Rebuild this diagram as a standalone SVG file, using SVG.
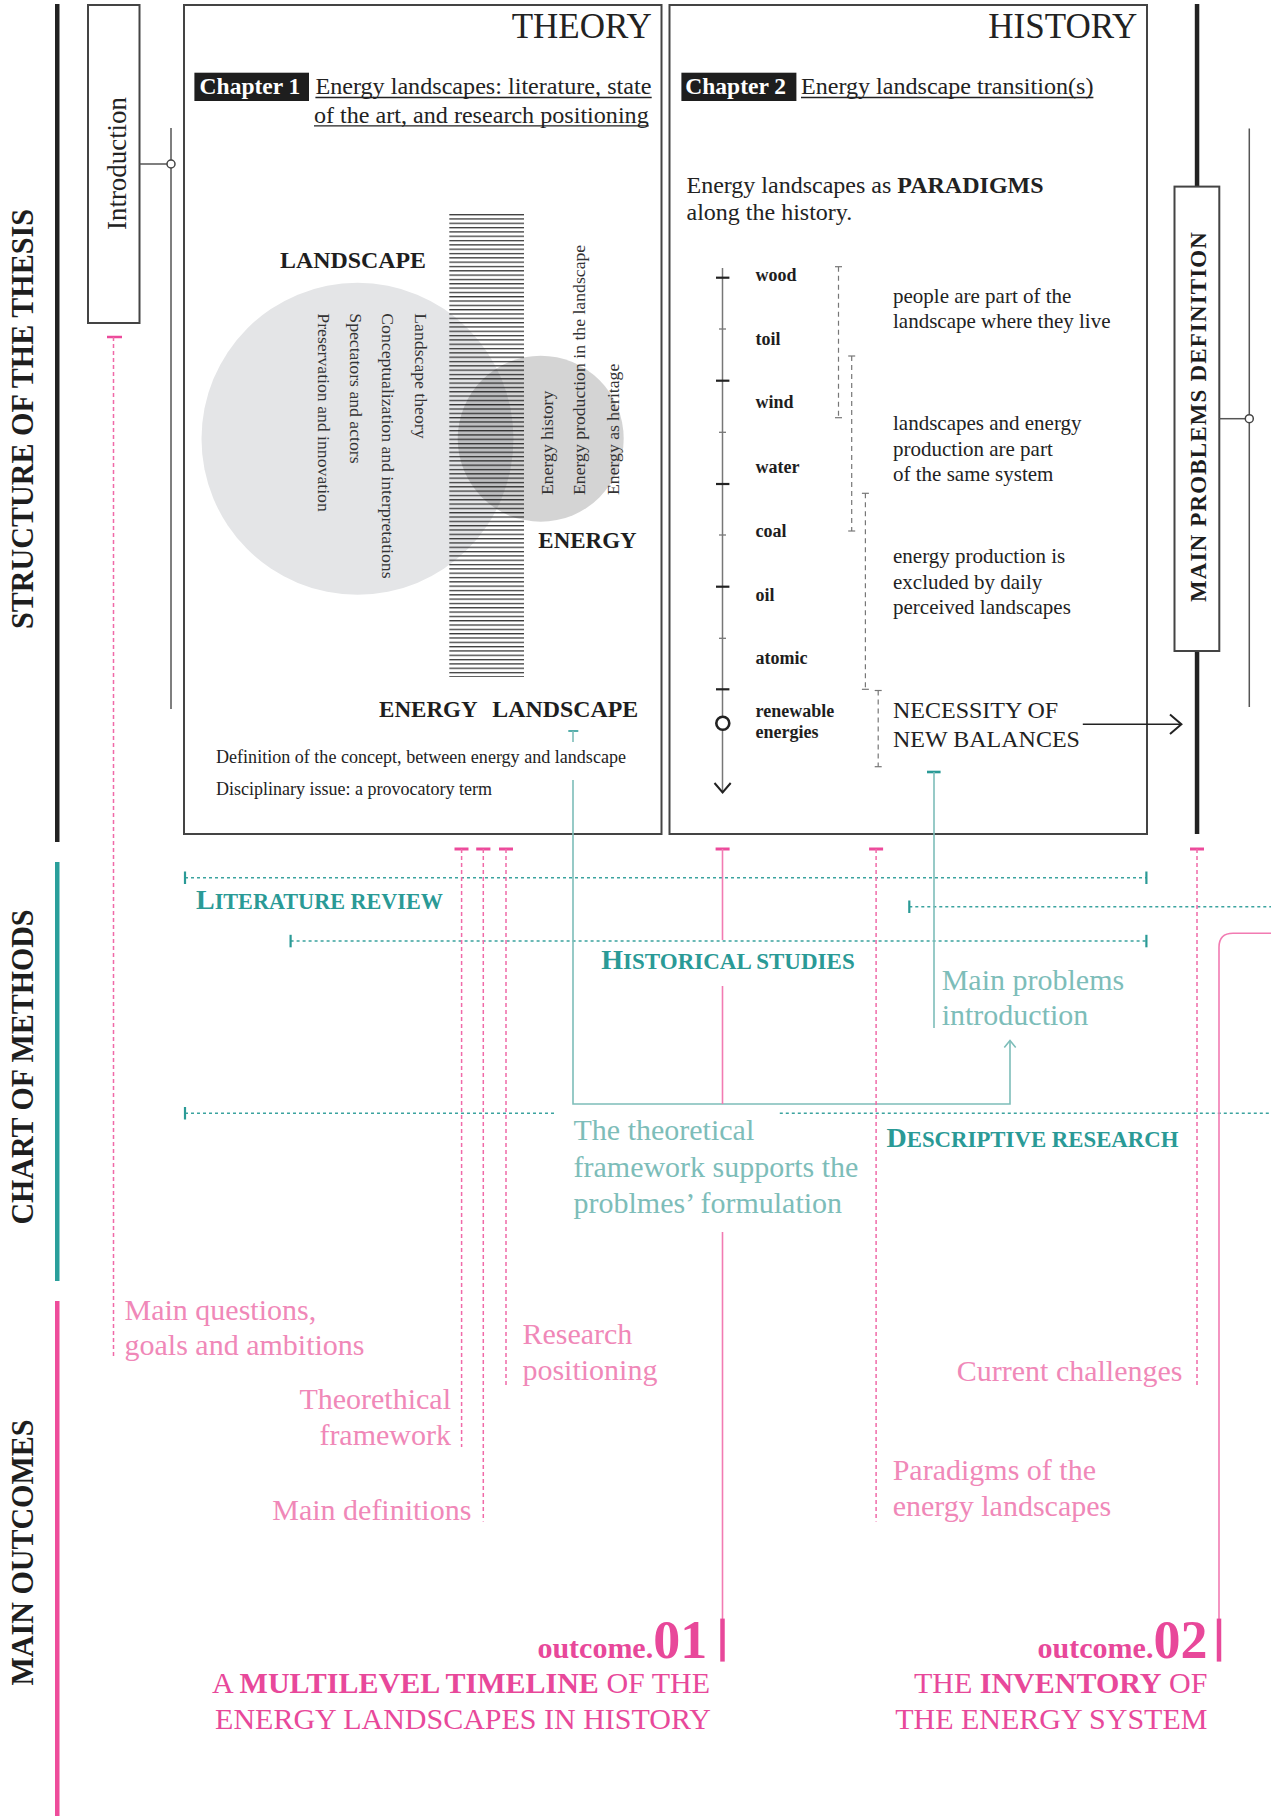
<svg xmlns="http://www.w3.org/2000/svg" width="1271" height="1816" viewBox="0 0 1271 1816">
<defs>
<style>
text{font-family:"Liberation Serif","Times New Roman",serif;}
.b{font-weight:bold;}
.blk{fill:#1e1e1e;}
.box{fill:#fff;stroke:#444;stroke-width:2;}
.thin{stroke:#555;stroke-width:1.5;fill:none;}
.tick{stroke:#222;stroke-width:2.2;}
.stick{stroke:#777;stroke-width:1.3;}
.brk{stroke:#777;stroke-width:1.2;stroke-dasharray:5 4;fill:none;}
.brkc{stroke:#777;stroke-width:1.2;}
.tdash{stroke:#3ba39f;stroke-width:1.5;stroke-dasharray:3 3;fill:none;}
.tcap{stroke:#2a9a96;stroke-width:2.2;}
.tline{stroke:#7dbdb9;stroke-width:1.6;fill:none;}
.pdash{stroke:#f06aa8;stroke-width:1.5;stroke-dasharray:4 3;fill:none;}
.pcap{stroke:#ec4a9b;stroke-width:3;}
.psolid{stroke:#f27bb2;stroke-width:1.6;fill:none;}
.pbar{stroke:#e8489a;stroke-width:4.5;}
.teal{fill:#2a9a96;font-weight:bold;}
.lteal{fill:#7dbdb9;font-size:30px;}
.lpink{fill:#f088b8;font-size:30px;}
.opink{fill:#e8489a;font-size:30px;}
.tl{font-size:18px;font-weight:bold;fill:#1e1e1e;}
.exp{font-size:21px;fill:#222;}
.vt{font-size:17.7px;fill:#333;}
</style>
<pattern id="hatch" patternUnits="userSpaceOnUse" x="0" y="214" width="80" height="4.32">
<rect x="0" y="0" width="80" height="1.3" fill="#3a3a3a"/>
</pattern>
</defs>

<!-- left column labels and bars -->
<g id="section-labels">
<rect x="55" y="4" width="4.5" height="838" fill="#222"/>
<rect x="55" y="862" width="4.5" height="419" fill="#2a9f9b"/>
<rect x="55" y="1301" width="4.5" height="515" fill="#ee4d9b"/>
<text class="b blk" font-size="32" text-anchor="middle" transform="translate(33,419) rotate(-90)" textLength="420" lengthAdjust="spacingAndGlyphs">STRUCTURE OF THE THESIS</text>
<text class="b blk" font-size="32" text-anchor="middle" transform="translate(33,1067) rotate(-90)" textLength="315" lengthAdjust="spacingAndGlyphs">CHART OF METHODS</text>
<text class="b blk" font-size="32" text-anchor="middle" transform="translate(33,1552.5) rotate(-90)" textLength="266" lengthAdjust="spacingAndGlyphs">MAIN OUTCOMES</text>
</g>

<!-- Introduction -->
<g id="introduction">
<rect class="box" x="88" y="5" width="51.5" height="318"/>
<text font-size="27.5" fill="#222" text-anchor="middle" transform="translate(126,163.5) rotate(-90)" textLength="133" lengthAdjust="spacingAndGlyphs">Introduction</text>
</g>

<!-- THEORY box -->
<g id="theory">
<rect class="box" x="184" y="5" width="477.5" height="829"/>
<text font-size="35" fill="#222" text-anchor="end" x="651.7" y="38">THEORY</text>
<rect x="194.4" y="72.7" width="114.6" height="28.3" fill="#1e1e1e"/>
<text class="b" font-size="23.5" fill="#fff" x="199.6" y="94.3">Chapter 1</text>
<text font-size="24" fill="#222" x="315.4" y="94.3" textLength="336" lengthAdjust="spacingAndGlyphs">Energy landscapes: literature, state</text>
<text font-size="24" fill="#222" x="314" y="122.7" textLength="334.7" lengthAdjust="spacingAndGlyphs">of the art, and research positioning</text>
<line x1="315.4" y1="97.5" x2="651.7" y2="97.5" stroke="#222" stroke-width="1.3"/>
<line x1="314" y1="125.8" x2="648.7" y2="125.8" stroke="#222" stroke-width="1.3"/>

<circle cx="357.5" cy="438.8" r="156" fill="#e4e5e7"/>
<rect x="449.3" y="214" width="74.7" height="463" fill="url(#hatch)"/>
<circle cx="540.7" cy="438.7" r="83" fill="#000" fill-opacity="0.17"/>

<text class="b blk" font-size="23.5" x="280" y="268.3" textLength="146" lengthAdjust="spacingAndGlyphs">LANDSCAPE</text>
<text class="vt" transform="translate(415,313.3) rotate(90)">Landscape theory</text>
<text class="vt" transform="translate(382,313.3) rotate(90)">Conceptualization and interpretations</text>
<text class="vt" transform="translate(349.5,313.3) rotate(90)">Spectators and actors</text>
<text class="vt" transform="translate(318,313.3) rotate(90)">Preservation and innovation</text>

<text class="vt" transform="translate(553,495) rotate(-90)">Energy history</text>
<text class="vt" transform="translate(585,495) rotate(-90)">Energy production in the landscape</text>
<text class="vt" transform="translate(619,495) rotate(-90)">Energy as heritage</text>
<text class="b blk" font-size="23" x="538.3" y="548.3" textLength="98.4" lengthAdjust="spacingAndGlyphs">ENERGY</text>

<text class="b blk" font-size="23" x="379" y="716.7" textLength="98.7" lengthAdjust="spacingAndGlyphs">ENERGY</text>
<text class="b blk" font-size="23" x="492.3" y="716.7" textLength="146" lengthAdjust="spacingAndGlyphs">LANDSCAPE</text>
<text font-size="18" fill="#222" x="216" y="763.3" textLength="410" lengthAdjust="spacingAndGlyphs">Definition of the concept, between energy and landscape</text>
<text font-size="18" fill="#222" x="216" y="795">Disciplinary issue: a provocatory term</text>
</g>

<!-- HISTORY box -->
<g id="history">
<rect class="box" x="669.5" y="5" width="477.5" height="829"/>
<text font-size="35" fill="#222" text-anchor="end" x="1137.4" y="38">HISTORY</text>
<rect x="681.4" y="72.7" width="115" height="28.3" fill="#1e1e1e"/>
<text class="b" font-size="23.5" fill="#fff" x="685.3" y="94.3">Chapter 2</text>
<text font-size="24" fill="#222" x="801" y="94.3" textLength="292.4" lengthAdjust="spacingAndGlyphs">Energy landscape transition(s)</text>
<line x1="801" y1="97.5" x2="1093.4" y2="97.5" stroke="#222" stroke-width="1.3"/>
<text font-size="24" fill="#222" x="686.5" y="192.7">Energy landscapes as <tspan class="b">PARADIGMS</tspan></text>
<text font-size="24" fill="#222" x="686.5" y="220">along the history.</text>

<g id="timeline">
<line x1="722.5" y1="268" x2="722.5" y2="793" stroke="#777" stroke-width="1.5"/>
<line class="tick" x1="716" y1="277.7" x2="729.4" y2="277.7"/>
<line class="tick" x1="716" y1="380.7" x2="729.4" y2="380.7"/>
<line class="tick" x1="716" y1="484" x2="729.4" y2="484"/>
<line class="tick" x1="716" y1="586.7" x2="729.4" y2="586.7"/>
<line class="tick" x1="716" y1="689.3" x2="729.4" y2="689.3"/>
<line class="stick" x1="719" y1="329" x2="726" y2="329"/>
<line class="stick" x1="719" y1="432.3" x2="726" y2="432.3"/>
<line class="stick" x1="719" y1="535" x2="726" y2="535"/>
<line class="stick" x1="719" y1="638.3" x2="726" y2="638.3"/>
<circle cx="722.8" cy="723.3" r="6.5" fill="#fff" stroke="#222" stroke-width="2.6"/>
<polyline points="714.5,783 722.6,792.5 730.7,783" fill="none" stroke="#222" stroke-width="2"/>
<text class="tl" x="755.5" y="280.7">wood</text>
<text class="tl" x="755.5" y="345">toil</text>
<text class="tl" x="755.5" y="408">wind</text>
<text class="tl" x="755.5" y="473">water</text>
<text class="tl" x="755.5" y="536.7">coal</text>
<text class="tl" x="755.5" y="600.7">oil</text>
<text class="tl" x="755.5" y="664">atomic</text>
<text class="tl" x="755.5" y="716.7">renewable</text>
<text class="tl" x="755.5" y="737.7">energies</text>
</g>

<g id="brackets">
<line class="brk" x1="838.5" y1="266.7" x2="838.5" y2="417.7"/>
<line class="brkc" x1="835" y1="266.7" x2="842" y2="266.7"/>
<line class="brkc" x1="835" y1="417.7" x2="842" y2="417.7"/>
<line class="brk" x1="851.7" y1="356" x2="851.7" y2="531"/>
<line class="brkc" x1="848.2" y1="356" x2="855.2" y2="356"/>
<line class="brkc" x1="848.2" y1="531" x2="855.2" y2="531"/>
<line class="brk" x1="865.4" y1="493.3" x2="865.4" y2="689.3"/>
<line class="brkc" x1="861.9" y1="493.3" x2="868.9" y2="493.3"/>
<line class="brkc" x1="861.9" y1="689.3" x2="868.9" y2="689.3"/>
<line class="brk" x1="878.2" y1="690.5" x2="878.2" y2="766.7"/>
<line class="brkc" x1="874.7" y1="690.5" x2="881.7" y2="690.5"/>
<line class="brkc" x1="874.7" y1="766.7" x2="881.7" y2="766.7"/>
<text class="exp" x="893" y="303.3">people are part of the</text>
<text class="exp" x="893" y="328.3">landscape where they live</text>
<text class="exp" x="893" y="430">landscapes and energy</text>
<text class="exp" x="893" y="455.7">production are part</text>
<text class="exp" x="893" y="480.7">of the same system</text>
<text class="exp" x="893" y="563.3">energy production is</text>
<text class="exp" x="893" y="589">excluded by daily</text>
<text class="exp" x="893" y="614">perceived landscapes</text>
<text font-size="24" fill="#222" x="893" y="718.3">NECESSITY OF</text>
<text font-size="24" fill="#222" x="893" y="746.7">NEW BALANCES</text>
</g>
</g>

<!-- MAIN PROBLEMS DEFINITION -->
<g id="main-problems">
<rect x="1194.8" y="4" width="4.5" height="183" fill="#222"/>
<rect x="1194.8" y="650" width="4.5" height="184" fill="#222"/>
<rect class="box" x="1174.5" y="186.6" width="44.8" height="464.4"/>
<text class="b blk" font-size="23" text-anchor="middle" transform="translate(1206,417) rotate(-90)" textLength="370" lengthAdjust="spacing">MAIN PROBLEMS  DEFINITION</text>
</g>

<!-- connectors -->
<g id="connectors">
<line class="thin" x1="139.5" y1="164" x2="167" y2="164"/>
<line class="thin" x1="171" y1="128" x2="171" y2="709"/>
<circle cx="171" cy="164" r="4" fill="#fff" stroke="#444" stroke-width="1.5"/>
<line class="thin" x1="1219.3" y1="418.7" x2="1245.3" y2="418.7"/>
<line class="thin" x1="1249.3" y1="128.5" x2="1249.3" y2="707"/>
<circle cx="1249.3" cy="418.7" r="4" fill="#fff" stroke="#444" stroke-width="1.5"/>
<line x1="1082.8" y1="724.3" x2="1181" y2="724.3" stroke="#222" stroke-width="1.5"/>
<polyline points="1170,714.5 1181.4,724.3 1170,734.1" fill="none" stroke="#222" stroke-width="2"/>

<!-- teal method lines -->
<line class="tdash" x1="185" y1="877.7" x2="1146.4" y2="877.7"/>
<line class="tcap" x1="185" y1="871.5" x2="185" y2="884"/>
<line class="tcap" x1="1146.4" y1="871.5" x2="1146.4" y2="884"/>
<line class="tdash" x1="290.6" y1="941" x2="1146.4" y2="941"/>
<line class="tcap" x1="290.6" y1="934.8" x2="290.6" y2="947.3"/>
<line class="tcap" x1="1146.4" y1="934.8" x2="1146.4" y2="947.3"/>
<line class="tdash" x1="909.3" y1="906.7" x2="1271" y2="906.7"/>
<line class="tcap" x1="909.3" y1="900.5" x2="909.3" y2="913"/>
<line class="tdash" x1="185" y1="1113.3" x2="557" y2="1113.3"/>
<line class="tcap" x1="185" y1="1107" x2="185" y2="1119.5"/>
<line class="tdash" x1="779.8" y1="1113.3" x2="1271" y2="1113.3"/>

<!-- teal solid connectors -->
<line class="tcap" x1="568.3" y1="731" x2="578.3" y2="731" style="stroke-width:1.6"/>
<line class="tline" x1="573" y1="731" x2="573" y2="742"/>
<path class="tline" d="M573 780 V1104 H1010 V1041"/>
<polyline class="tline" points="1004.3,1047.5 1010,1040.5 1015.7,1047.5"/>
<line class="tcap" x1="927" y1="772" x2="940.6" y2="772" style="stroke-width:2.6"/>
<line class="tline" x1="934" y1="772" x2="934" y2="1028"/>

<!-- pink outcome lines -->
<line class="pcap" x1="107" y1="337" x2="122" y2="337" style="stroke-width:2.5"/>
<line class="pdash" x1="113.5" y1="337" x2="113.5" y2="1356"/>
<line class="pcap" x1="454.5" y1="849" x2="468.5" y2="849"/>
<line class="pdash" x1="461.6" y1="849" x2="461.6" y2="1447"/>
<line class="pcap" x1="476.2" y1="849" x2="490.4" y2="849"/>
<line class="pdash" x1="483.3" y1="849" x2="483.3" y2="1521.5"/>
<line class="pcap" x1="499" y1="849" x2="513" y2="849"/>
<line class="pdash" x1="506" y1="849" x2="506" y2="1387"/>
<line class="pcap" x1="715.6" y1="849" x2="729.6" y2="849"/>
<line class="psolid" x1="722.5" y1="849" x2="722.5" y2="940"/>
<line class="psolid" x1="722.5" y1="986" x2="722.5" y2="1104"/>
<line class="psolid" x1="722.5" y1="1232" x2="722.5" y2="1620"/>
<line class="pbar" x1="722.5" y1="1618.6" x2="722.5" y2="1661.6"/>
<line class="pcap" x1="869.1" y1="849" x2="883.1" y2="849"/>
<line class="pdash" x1="876.1" y1="849" x2="876.1" y2="1521.5"/>
<line class="pcap" x1="1190" y1="849" x2="1204" y2="849"/>
<line class="pdash" x1="1197" y1="849" x2="1197" y2="1387"/>
<path class="psolid" d="M1271 933.3 H1233 Q1219 933.3 1219 947.3 V1620"/>
<line class="pbar" x1="1219" y1="1618.6" x2="1219" y2="1661.6"/>
</g>

<!-- method labels -->
<g id="methods">
<text class="teal" x="196" y="909"><tspan font-size="28">L</tspan><tspan font-size="22.2">ITERATURE REVIEW</tspan></text>
<text class="teal" x="601.3" y="968.8"><tspan font-size="28">H</tspan><tspan font-size="23">ISTORICAL STUDIES</tspan></text>
<text class="teal" x="886.5" y="1146.7"><tspan font-size="28">D</tspan><tspan font-size="22.8">ESCRIPTIVE RESEARCH</tspan></text>
<text class="lteal" x="941.7" y="990">Main problems</text>
<text class="lteal" x="941.7" y="1025">introduction</text>
<text class="lteal" x="573.5" y="1140">The theoretical</text>
<text class="lteal" x="573.5" y="1176.7">framework supports the</text>
<text class="lteal" x="573.5" y="1213.3">problmes’ formulation</text>
</g>

<!-- outcomes labels -->
<g id="outcomes">
<text class="lpink" x="124.5" y="1319.7">Main questions,</text>
<text class="lpink" x="124.5" y="1355.2">goals and ambitions</text>
<text class="lpink" text-anchor="end" x="451" y="1409.4">Theorethical</text>
<text class="lpink" text-anchor="end" x="451" y="1445">framework</text>
<text class="lpink" text-anchor="end" x="471.4" y="1519.6">Main definitions</text>
<text class="lpink" x="522.4" y="1344">Research</text>
<text class="lpink" x="522.4" y="1379.5">positioning</text>
<text class="lpink" text-anchor="end" x="1182.5" y="1381.3">Current challenges</text>
<text class="lpink" x="892.7" y="1480.4">Paradigms of the</text>
<text class="lpink" x="892.7" y="1516">energy landscapes</text>
</g>

<g id="outcome-01">
<text class="opink b" text-anchor="end" x="707.2" y="1658"><tspan font-size="30">outcome.</tspan><tspan font-size="54">01</tspan></text>
<text class="opink" text-anchor="end" x="710" y="1693.4">A <tspan class="b">MULTILEVEL TIMELINE</tspan> OF THE</text>
<text class="opink" text-anchor="end" x="711" y="1729">ENERGY LANDSCAPES IN HISTORY</text>
</g>

<g id="outcome-02">
<text class="opink b" text-anchor="end" x="1207.4" y="1658"><tspan font-size="30">outcome.</tspan><tspan font-size="54">02</tspan></text>
<text class="opink" text-anchor="end" x="1207.4" y="1693.4">THE <tspan class="b">INVENTORY</tspan> OF</text>
<text class="opink" text-anchor="end" x="1207.4" y="1729">THE ENERGY SYSTEM</text>
</g>
</svg>
